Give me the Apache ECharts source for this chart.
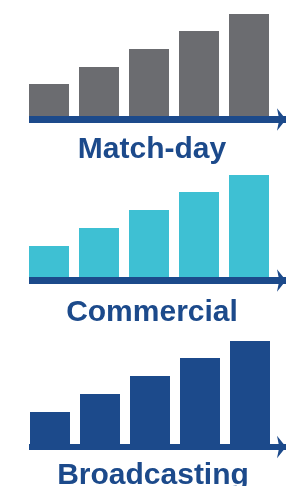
<!DOCTYPE html>
<html>
<head>
<meta charset="utf-8">
<script src="https://cdn.jsdelivr.net/npm/echarts@6/dist/echarts.min.js"></script>
<style>
html,body{margin:0;padding:0;background:#fff;}
#chart{width:286px;height:486px;}
</style>
</head>
<body>
<div id="chart"></div>
<script>
var categories = ['1', '2', '3', '4', '5'];
var matchDay = [32, 49, 67, 85, 102];
var commercial = [31, 49, 67, 85, 102];
var broadcasting = [32, 50, 68, 86, 103];
var panelTitles = ['Match-day', 'Commercial', 'Broadcasting'];

var navy = '#1c4a8b';
var colors = ['#6b6c70', '#3ec0d3', '#1c4a8b'];
var seriesData = [matchDay, commercial, broadcasting];
var barBottoms = [116, 277, 444];
var barLefts = [24, 24, 25];
var lineCenters = [119.5, 280.5, 447];
var lineWidths = [7, 7, 6];
var titleTops = [135, 298, 461];
var titleCenters = [152, 152, 153];

var grids = [], xAxes = [], yAxes = [], series = [], titles = [];
for (var i = 0; i < 3; i++) {
  grids.push({left: barLefts[i], width: 250, top: barBottoms[i] - 110, height: 110});
  xAxes.push({type: 'category', gridIndex: 2 * i, data: categories,
    axisLine: {show: false}, axisTick: {show: false}, axisLabel: {show: false}});
  yAxes.push({type: 'value', gridIndex: 2 * i, min: 0, max: 110, show: false});
  series.push({type: 'bar', xAxisIndex: 2 * i, yAxisIndex: 2 * i, data: seriesData[i],
    barCategoryGap: '20%', itemStyle: {color: colors[i]}, z: 3});
  grids.push({left: 29, right: 0, top: lineCenters[i] - 1, height: 1});
  xAxes.push({type: 'value', gridIndex: 2 * i + 1, min: 0, max: 1,
    axisLine: {show: true, lineStyle: {color: navy, width: lineWidths[i], cap: 'butt'},
      symbol: ['none', 'arrow'], symbolSize: [17, 9]},
    axisTick: {show: false}, axisLabel: {show: false}, splitLine: {show: false}, z: 2});
  yAxes.push({type: 'value', gridIndex: 2 * i + 1, show: false});
  titles.push({text: panelTitles[i], left: titleCenters[i], top: titleTops[i], textAlign: 'center',
    padding: 0,
    textStyle: {fontFamily: 'Liberation Sans', fontWeight: 'bold', fontSize: 30, color: navy}});
}

var chart = echarts.init(document.getElementById('chart'), null, {renderer: 'canvas'});
chart.setOption({
  animation: false,
  title: titles,
  grid: grids,
  xAxis: xAxes,
  yAxis: yAxes,
  series: series
});
</script>
</body>
</html>
